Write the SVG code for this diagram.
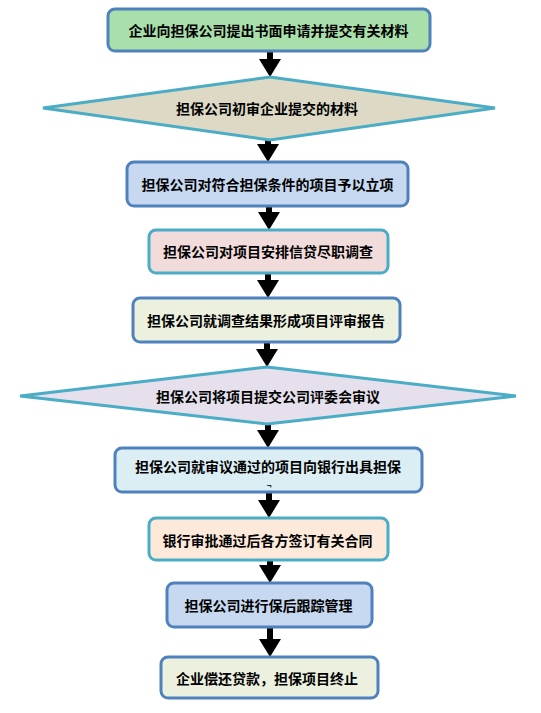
<svg xmlns="http://www.w3.org/2000/svg" width="541" height="713" viewBox="0 0 541 713">
<defs>
<style>
.t{font-family:"Noto Sans CJK SC","Liberation Sans",sans-serif;font-size:14px;font-weight:bold;fill:#000;text-anchor:middle;dominant-baseline:central}
.b{stroke-width:3}
.db{stroke:#4f81bd}
.cy{stroke:#4bacc6}
.c{stroke:#000;stroke-width:6;fill:none}
</style>
<marker id="ah" viewBox="0 0 18 22" refX="0" refY="11" markerWidth="18" markerHeight="22" markerUnits="userSpaceOnUse" orient="auto">
<path d="M0,0 L18,11 L0,22 z" fill="#000"/>
</marker>
</defs>
<rect width="541" height="713" fill="#fff"/>
<g id="connectors">
<line class="c" x1="270" y1="51" x2="270" y2="59" marker-end="url(#ah)"/>
<line class="c" x1="268" y1="140" x2="268" y2="144" marker-end="url(#ah)"/>
<line class="c" x1="269" y1="206" x2="269" y2="212" marker-end="url(#ah)"/>
<line class="c" x1="268" y1="273" x2="268" y2="280" marker-end="url(#ah)"/>
<line class="c" x1="267" y1="342" x2="267" y2="349" marker-end="url(#ah)"/>
<line class="c" x1="268" y1="424" x2="268" y2="430" marker-end="url(#ah)"/>
<line class="c" x1="269" y1="492" x2="269" y2="500" marker-end="url(#ah)"/>
<line class="c" x1="270" y1="560" x2="270" y2="565" marker-end="url(#ah)"/>
<line class="c" x1="270" y1="627" x2="270" y2="639" marker-end="url(#ah)"/>
</g>
<g id="n1">
<rect class="b db" x="108" y="9" width="322" height="42" rx="7" fill="#a8dfaa"/>
<text class="t" x="268.5" y="30">企业向担保公司提出书面申请并提交有关材料</text>
</g>
<g id="n2">
<polygon class="b cy" points="270,77 495,108 270,140 43,108" fill="#ddd9c4"/>
<text class="t" x="267" y="108">担保公司初审企业提交的材料</text>
</g>
<g id="n3">
<rect class="b db" x="127" y="162" width="281" height="44" rx="7" fill="#c6d9f1"/>
<text class="t" x="267.5" y="184">担保公司对符合担保条件的项目予以立项</text>
</g>
<g id="n4">
<rect class="b cy" x="149" y="230" width="239" height="43" rx="7" fill="#f2dcdb"/>
<text class="t" x="268" y="251">担保公司对项目安排信贷尽职调查</text>
</g>
<g id="n5">
<rect class="b db" x="133" y="298" width="267" height="44" rx="7" fill="#ebf1de"/>
<text class="t" x="266" y="320">担保公司就调查结果形成项目评审报告</text>
</g>
<g id="n6">
<polygon class="b cy" points="267,367 516,396 267,424 20,396" fill="#e5e0ec"/>
<text class="t" x="268" y="396">担保公司将项目提交公司评委会审议</text>
</g>
<g id="n7">
<rect class="b db" x="115" y="448" width="307" height="44" rx="7" fill="#dbeef4"/>
<text class="t" x="268" y="466">担保公司就审议通过的项目向银行出具担保</text>
<text class="t" x="269" y="484" style="font-size:8px">¬</text>
</g>
<g id="n8">
<rect class="b cy" x="149" y="518" width="239" height="42" rx="7" fill="#fde9d9"/>
<text class="t" x="267.5" y="540">银行审批通过后各方签订有关合同</text>
</g>
<g id="n9">
<rect class="b db" x="167" y="583" width="205" height="44" rx="7" fill="#c6d9f1"/>
<text class="t" x="268.5" y="605">担保公司进行保后跟踪管理</text>
</g>
<g id="n10">
<rect class="b db" x="161" y="657" width="217" height="41" rx="7" fill="#ebf1de"/>
<text class="t" x="267" y="678">企业偿还贷款，担保项目终止</text>
</g>
</svg>
